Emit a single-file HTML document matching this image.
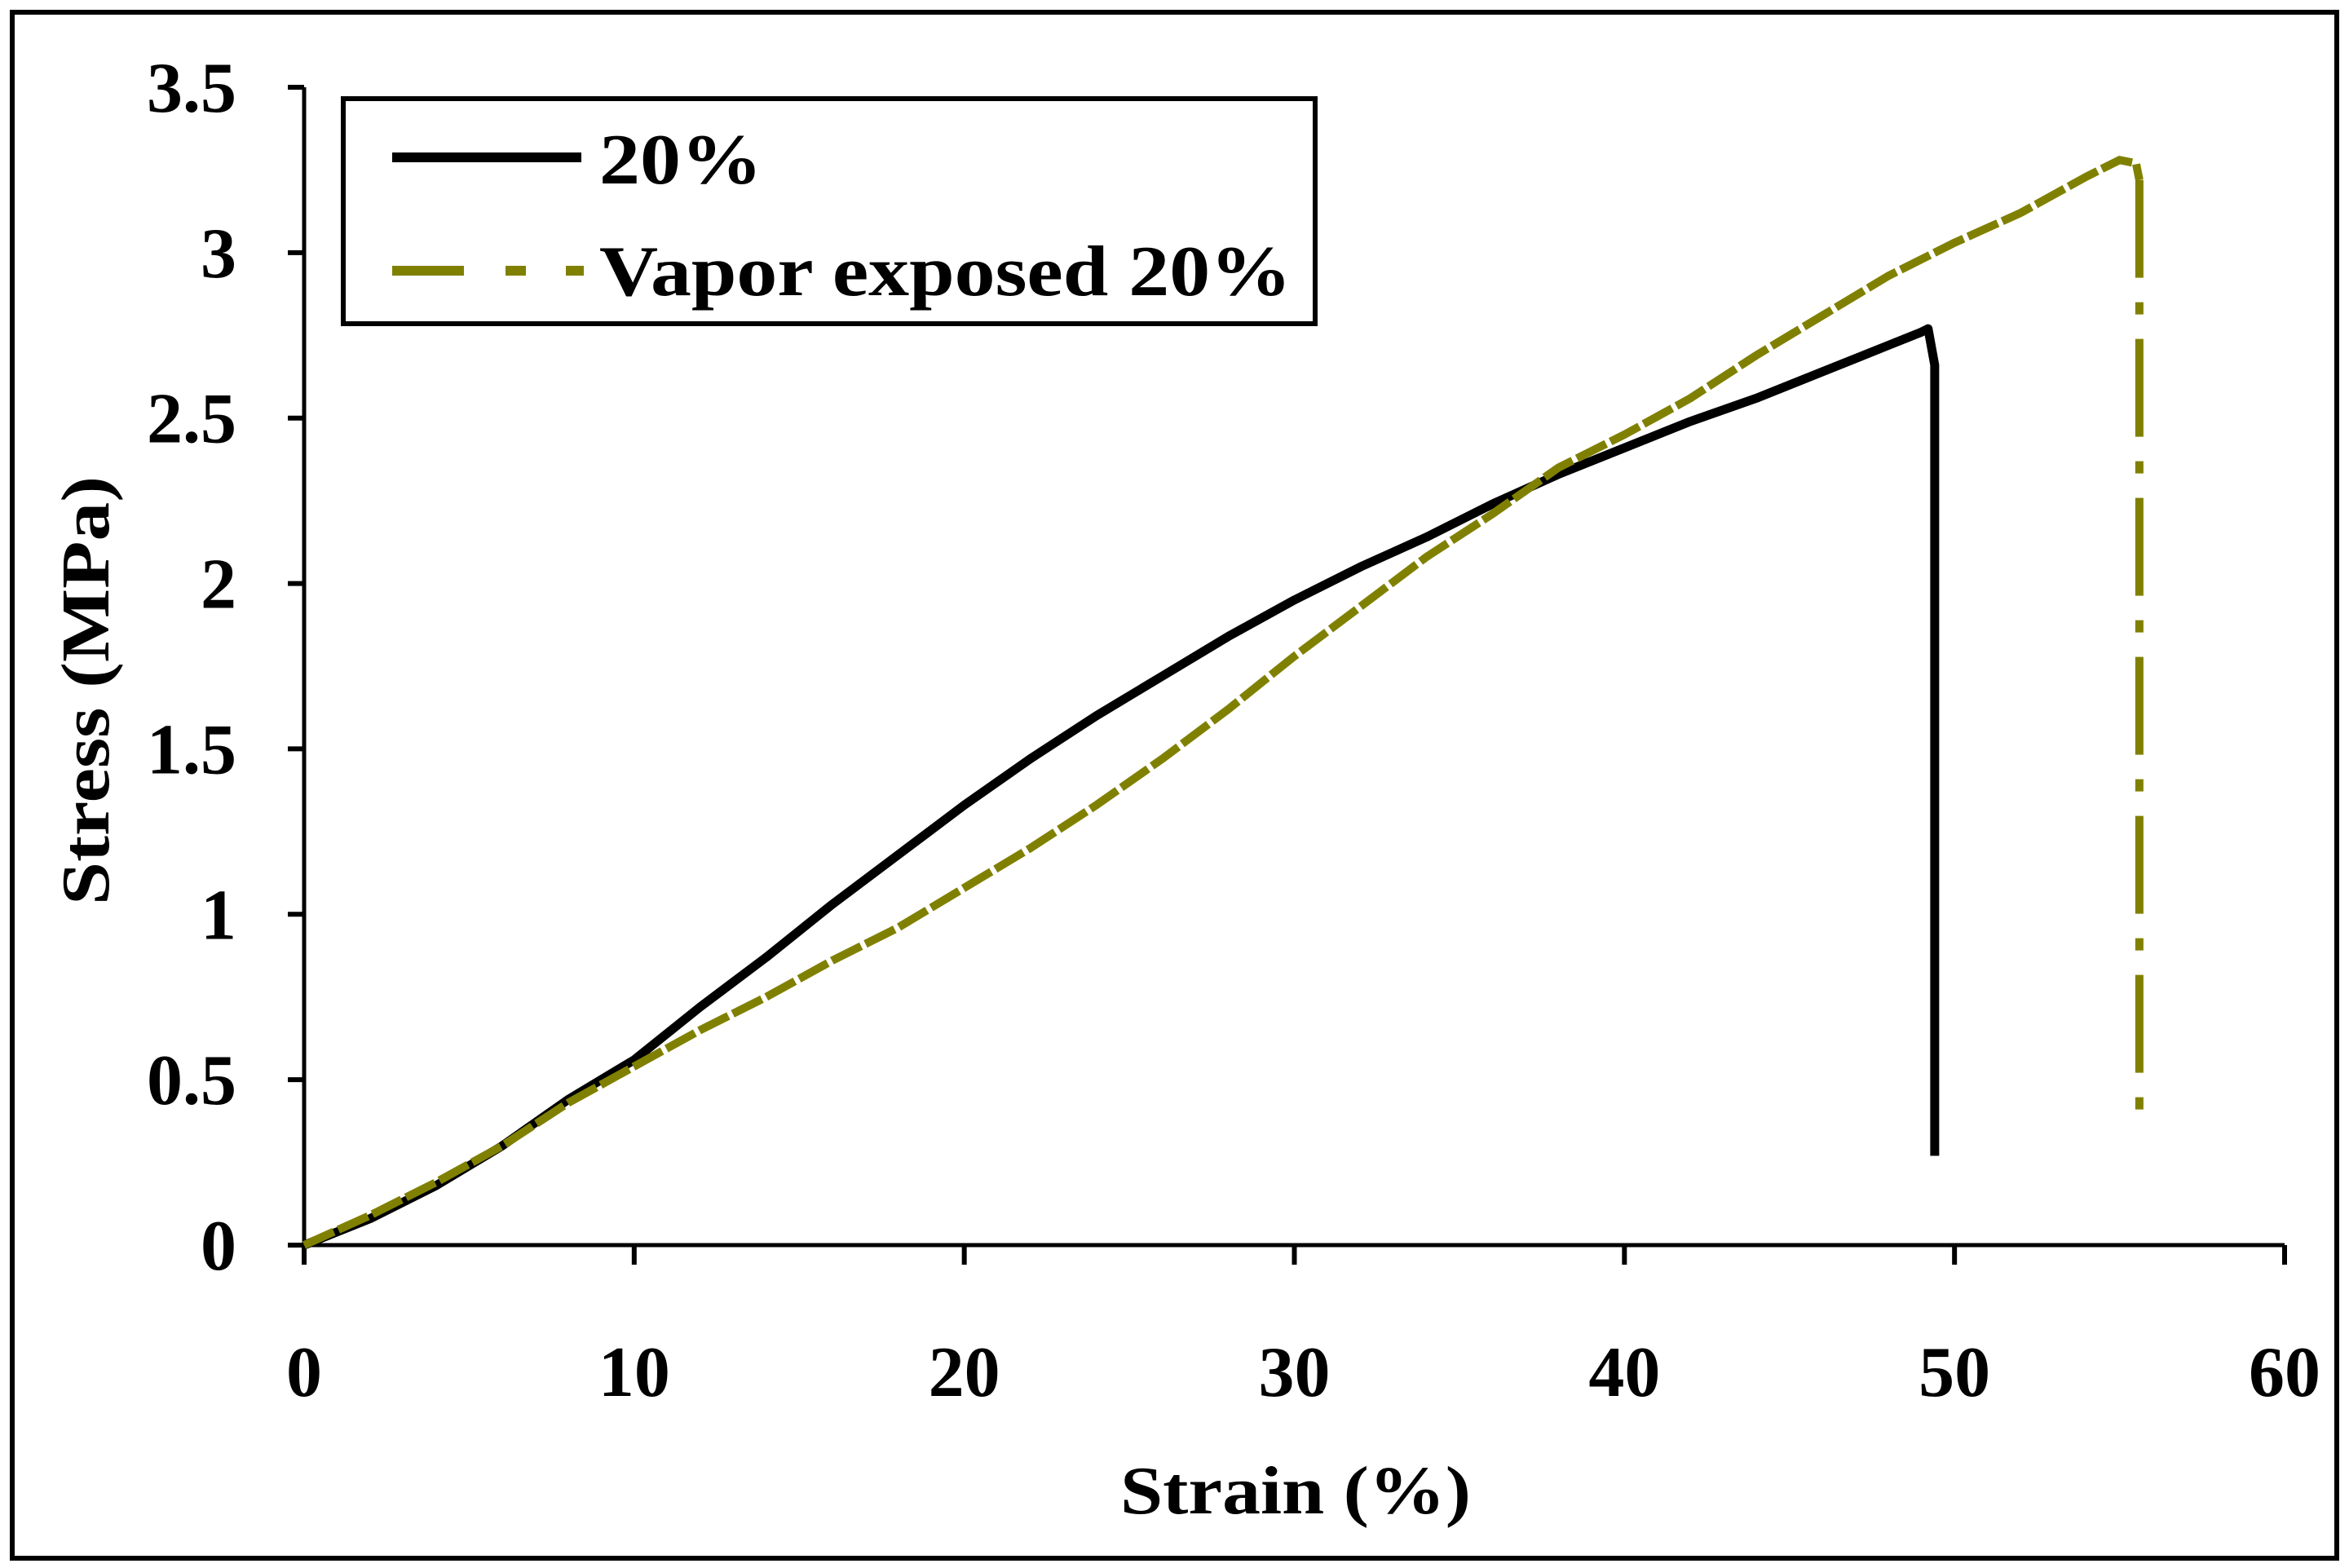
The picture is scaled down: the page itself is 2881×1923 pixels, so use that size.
<!DOCTYPE html>
<html><head><meta charset="utf-8"><style>
html,body{margin:0;padding:0;background:#fff;}
svg{display:block;}
text{font-family:"Liberation Serif",serif;font-weight:bold;fill:#000;}
</style></head><body>
<svg id="chart" width="2881" height="1923" viewBox="0 0 2881 1923">
<rect x="15" y="15" width="2851" height="1896" fill="#fff" stroke="#000" stroke-width="6"/>
<g id="axes"></g>
<g id="series"></g>
<text x="1589" y="1856" font-size="84" text-anchor="middle" textLength="430" lengthAdjust="spacingAndGlyphs">Strain (%)</text>
<text x="0" y="0" font-size="84" text-anchor="middle" textLength="526" lengthAdjust="spacingAndGlyphs" transform="translate(133,847) rotate(-90)">Stress (MPa)</text>
<g>
<rect x="421" y="121" width="1192" height="276" fill="#fff" stroke="#000" stroke-width="6"/>
<line x1="481" y1="193" x2="713" y2="193" stroke="#000" stroke-width="12"/>
<text x="735" y="225" font-size="88" textLength="200" lengthAdjust="spacingAndGlyphs">20%</text>
<line x1="481" y1="332" x2="716" y2="332" stroke="#808000" stroke-width="12" stroke-dasharray="88 51 25 49 22 100"/>
<text x="735" y="362" font-size="88" textLength="849" lengthAdjust="spacingAndGlyphs">Vapor exposed 20%</text>
</g>
</svg>
<script>
const xTicks = [0,10,20,30,40,50,60];
const yTicks = [0,0.5,1,1.5,2,2.5,3,3.5];
const yTickLabels = ["0","0.5","1","1.5","2","2.5","3","3.5"];
const strainA = [0,2,4,6,8,10,12,14,16,18,20,22,24,26,28,30,32,34,36,38,40,42,44,46,48,49,49.2,49.4,49.4];
const stressA = [0,0.08,0.18,0.3,0.44,0.56,0.72,0.87,1.03,1.18,1.33,1.47,1.6,1.72,1.84,1.95,2.05,2.14,2.24,2.33,2.41,2.49,2.56,2.64,2.72,2.76,2.77,2.66,0.27];
const strainB = [0,2,4,6,8,10,12,14,16,18,20,22,24,26,28,30,32,34,36,38,40,42,44,46,48,50,52,54,55,55.5,55.6];
const stressB = [0,0.09,0.19,0.3,0.43,0.54,0.65,0.75,0.86,0.96,1.08,1.2,1.33,1.47,1.62,1.78,1.93,2.08,2.21,2.35,2.45,2.56,2.69,2.81,2.93,3.03,3.12,3.23,3.28,3.27,3.22];
const dropB = [[55.6,3.22],[55.6,0.36]];

const X0=373, X1=2802, Y0=1527, Y1=107;
const xs = v => X0 + (v-0)/(60-0)*(X1-X0);
const ys = v => Y0 - (v-0)/(3.5-0)*(Y0-Y1);
const NS="http://www.w3.org/2000/svg";
const axes=document.getElementById('axes');
const series=document.getElementById('series');
function mk(tag,attrs,parent){const e=document.createElementNS(NS,tag);for(const k in attrs)e.setAttribute(k,attrs[k]);parent.appendChild(e);return e;}

let e=mk('line',{x1:X0,y1:Y1,x2:X0,y2:Y0+3,stroke:'#000','stroke-width':5},axes);


e=mk('line',{x1:X0-3,y1:Y0,x2:X1,y2:Y0,stroke:'#000','stroke-width':5},axes);


yTicks.forEach((v,i)=>{
  let t=mk('line',{x1:X0-20,y1:ys(v),x2:X0,y2:ys(v),stroke:'#000','stroke-width':6},axes);
  
  
  let l=mk('text',{x:290,y:ys(v)+30,'font-size':88,'text-anchor':'end'},axes);
  l.textContent=yTickLabels[i];
  
  
});
xTicks.forEach(v=>{
  let t=mk('line',{x1:xs(v),y1:Y0,x2:xs(v),y2:Y0+24,stroke:'#000','stroke-width':6},axes);
  
  
  let l=mk('text',{x:xs(v),y:1712,'font-size':88,'text-anchor':'middle'},axes);
  l.textContent=String(v);
  
  
});
const ptsA=strainA.map((s,i)=>xs(s)+','+ys(stressA[i])).join(' ');
let pa=mk('polyline',{points:ptsA,fill:'none',stroke:'#000','stroke-width':11,'stroke-linejoin':'round'},series);


const ptsB=strainB.map((s,i)=>xs(s)+','+ys(stressB[i])).join(' ');
let pb=mk('polyline',{points:ptsB,fill:'none',stroke:'#808000','stroke-width':10,'stroke-dasharray':'40 6'},series);


let pd=mk('polyline',{points:dropB.map(p=>xs(p[0])+','+ys(p[1])).join(' '),fill:'none',stroke:'#808000','stroke-width':10,'stroke-dasharray':'120 30 15 30'},series);


</script>
</body></html>
